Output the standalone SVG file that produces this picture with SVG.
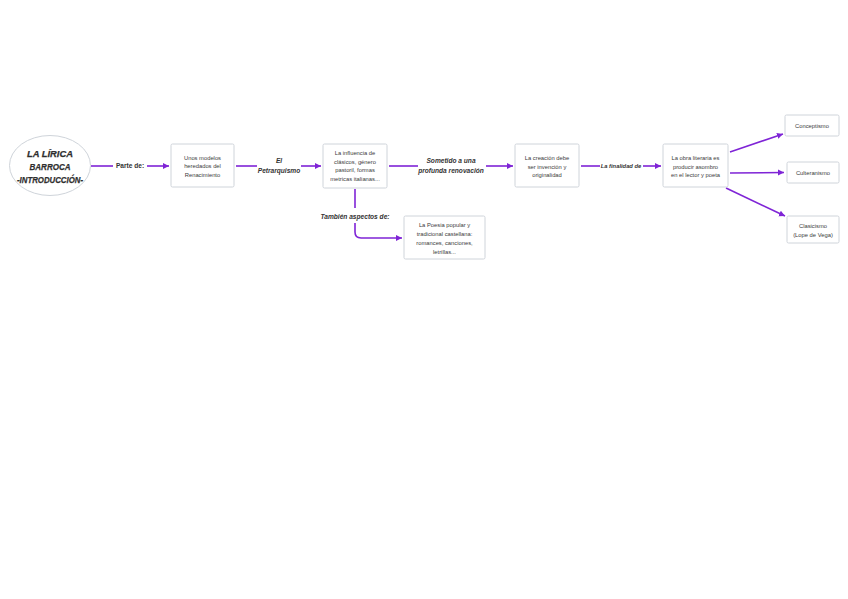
<svg xmlns="http://www.w3.org/2000/svg" width="848" height="599" viewBox="0 0 848 599">
<style>
.bg{fill:#ffffff}
.box{fill:#ffffff;stroke:#cfd4da;stroke-width:1}
.t{font-family:"Liberation Sans",Arial,sans-serif;font-size:5.8px;fill:#3a3a3a;text-anchor:middle}
.title{font-family:"Liberation Sans",Arial,sans-serif;font-size:9.5px;font-weight:bold;font-style:italic;fill:#2e2e2e;stroke:#2e2e2e;stroke-width:0.25;text-anchor:middle}
.lbl{font-family:"Liberation Sans",Arial,sans-serif;font-size:6.6px;font-weight:bold;font-style:italic;fill:#333333;text-anchor:middle}
.c{fill:none;stroke:#7f24d6;stroke-width:1.6}
</style>
<defs>
<marker id="arr" markerUnits="userSpaceOnUse" markerWidth="7" markerHeight="7" refX="6" refY="3.5" orient="auto">
<path d="M0,0.5 L6,3.5 L0,6.5 Z" fill="#7f24d6"/>
</marker>
</defs>
<rect class="bg" x="0" y="0" width="848" height="599"/>
<g id="connectors">
<line class="c" x1="91" y1="166" x2="113" y2="166"/>
<text class="lbl" x="130" y="168.3" style="font-style:normal">Parte de:</text>
<line class="c" x1="147" y1="166" x2="169" y2="166" marker-end="url(#arr)"/>
<line class="c" x1="236" y1="166" x2="257" y2="166"/>
<text class="lbl" x="279" y="163">El</text>
<text class="lbl" x="279" y="173">Petrarquismo</text>
<line class="c" x1="301" y1="166" x2="321" y2="166" marker-end="url(#arr)"/>
<line class="c" x1="389" y1="166" x2="418" y2="166"/>
<text class="lbl" x="451" y="163">Sometido a una</text>
<text class="lbl" x="451" y="173">profunda renovación</text>
<line class="c" x1="486" y1="166" x2="513" y2="166" marker-end="url(#arr)"/>
<line class="c" x1="581" y1="166" x2="600" y2="166"/>
<text class="lbl" x="621" y="168" style="font-size:5.8px">La finalidad de</text>
<line class="c" x1="643" y1="166" x2="661" y2="166" marker-end="url(#arr)"/>
<line class="c" x1="355" y1="189" x2="355" y2="208"/>
<text class="lbl" x="355" y="218.5">También aspectos de:</text>
<path class="c" d="M355,223 L355,232 Q355,238 361,238 L402,238" marker-end="url(#arr)"/>
<line class="c" x1="730" y1="152" x2="783" y2="134" marker-end="url(#arr)"/>
<line class="c" x1="730" y1="173" x2="784" y2="172.5" marker-end="url(#arr)"/>
<line class="c" x1="726" y1="188" x2="785" y2="216" marker-end="url(#arr)"/>
</g>
<g id="n-title">
<ellipse cx="50" cy="165.5" rx="40.5" ry="30" fill="#ffffff" stroke="#cfd4da" stroke-width="1"/>
<text class="title" x="50" y="156.5" textLength="46" lengthAdjust="spacingAndGlyphs">LA LÍRICA</text>
<text class="title" x="50" y="169.5" textLength="41" lengthAdjust="spacingAndGlyphs">BARROCA</text>
<text class="title" x="50" y="182.5" textLength="66" lengthAdjust="spacingAndGlyphs">-INTRODUCCIÓN-</text>
</g>
<g id="n-modelos">
<rect class="box" x="171" y="144" width="63" height="43" rx="1.5"/>
<text class="t" x="202.5" y="160">Unos modelos</text>
<text class="t" x="202.5" y="168">heredados del</text>
<text class="t" x="202.5" y="176.5">Renacimiento</text>
</g>
<g id="n-influencia">
<rect class="box" x="323" y="144" width="64" height="44" rx="1.5"/>
<text class="t" x="355" y="155">La influencia de</text>
<text class="t" x="355" y="163.5">clásicos, género</text>
<text class="t" x="355" y="172">pastoril, formas</text>
<text class="t" x="355" y="181">metricas italianas...</text>
</g>
<g id="n-poesia">
<rect class="box" x="404" y="216" width="81" height="43" rx="1.5"/>
<text class="t" x="444.5" y="227">La Poesia popular y</text>
<text class="t" x="444.5" y="236">tradicional castellana:</text>
<text class="t" x="444.5" y="245">romances, canciones,</text>
<text class="t" x="444.5" y="254">letrillas...</text>
</g>
<g id="n-creacion">
<rect class="box" x="515" y="144" width="64" height="43" rx="1.5"/>
<text class="t" x="547" y="160">La creación debe</text>
<text class="t" x="547" y="168.5">ser invención y</text>
<text class="t" x="547" y="177">originalidad</text>
</g>
<g id="n-obra">
<rect class="box" x="663" y="144" width="65" height="43" rx="1.5"/>
<text class="t" x="695.5" y="160">La obra literaria es</text>
<text class="t" x="695.5" y="168.5">producir asombro</text>
<text class="t" x="695.5" y="177">en el lector y poeta</text>
</g>
<g id="n-conceptismo">
<rect class="box" x="785" y="115" width="54" height="21" rx="1.5"/>
<text class="t" x="812" y="127.5">Conceptismo</text>
</g>
<g id="n-culteranismo">
<rect class="box" x="787" y="162" width="52" height="21" rx="1.5"/>
<text class="t" x="813" y="174.5">Culteranismo</text>
</g>
<g id="n-clasicismo">
<rect class="box" x="787" y="216" width="52" height="27" rx="1.5"/>
<text class="t" x="813" y="228">Clasicismo</text>
<text class="t" x="813" y="236.5">(Lope de Vega)</text>
</g>
</svg>
